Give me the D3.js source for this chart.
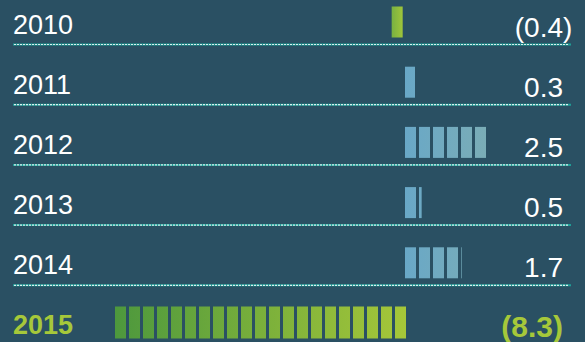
<!DOCTYPE html>
<html>
<head>
<meta charset="utf-8">
<script src="https://cdn.jsdelivr.net/npm/d3@7"></script>
<style>
  body { margin: 0; background: #2a5063; }
  svg { display: block; font-family: "Liberation Sans", Arial, Helvetica, sans-serif; }
</style>
</head>
<body>
<svg></svg>
<script>
var width = 585;
var height = 342;

// data
var years = ["2010", "2011", "2012", "2013", "2014"];
var values = [-0.4, 0.3, 2.5, 0.5, 1.7];
var labels = ["(0.4)", "0.3", "2.5", "0.5", "1.7"];
var totalYear = "2015";
var totalValue = -8.3;
var totalLabel = "(8.3)";

var allYears = years.concat([totalYear]);

var pitch = 14;
var blockW = 11;
var zeroX = 405;
var valueRight = 563;

var svg = d3.select("svg")
    .attr("width", width)
    .attr("height", height);

svg.append("rect")
    .attr("width", width)
    .attr("height", height)
    .attr("fill", "#2a5063");

// separator line y for each row
var yScale = d3.scalePoint()
    .domain(allYears)
    .range([44.5, 345.5]);

var xScale = d3.scaleLinear()
    .domain([0, 2.5])
    .range([zeroX, zeroX + 83.3]);

var xTotal = d3.scaleLinear()
    .domain([totalValue, 0])
    .range([115, zeroX + 1]);

var defs = svg.append("defs");
function grad(id, x1, x2, c1, c2) {
    var g = defs.append("linearGradient")
        .attr("id", id)
        .attr("gradientUnits", "userSpaceOnUse")
        .attr("x1", x1).attr("x2", x2)
        .attr("y1", 0).attr("y2", 0);
    g.append("stop").attr("offset", 0).attr("stop-color", c1);
    g.append("stop").attr("offset", 1).attr("stop-color", c2);
}
grad("blueGrad", xScale(0), xScale(2.5), "#69a8c7", "#7badb6");
grad("greenGrad", xScale(-0.4), xScale(0), "#78b142", "#a8ca38");
grad("totalGrad", xTotal(totalValue), xTotal(0), "#4d983d", "#a6c739");

// split a bar into blocks of fixed pitch from its left edge
function blocks(a, b) {
    var left = Math.min(a, b), right = Math.max(a, b);
    return d3.range(left, right, pitch).map(function(s) {
        return {x: s, w: Math.min(blockW, right - s)};
    });
}

var rows = years.map(function(y, i) {
    return {year: y, value: values[i], label: labels[i]};
});

// separators
allYears.slice(0, years.length).forEach(function(y) {
    var ly = yScale(y);
    svg.append("line")
        .attr("x1", 13).attr("x2", 571)
        .attr("y1", ly).attr("y2", ly)
        .attr("stroke", "#1f9f97")
        .attr("stroke-width", 2);
    svg.append("line")
        .attr("x1", 14).attr("x2", 568)
        .attr("y1", ly).attr("y2", ly)
        .attr("stroke", "#d9eeee")
        .attr("stroke-width", 1.2)
        .attr("stroke-dasharray", "2,1");
});

var row = svg.selectAll("g.row")
    .data(rows)
    .enter()
    .append("g")
    .attr("class", "row");

row.selectAll("rect")
    .data(function(d) {
        return blocks(xScale(0), xScale(d.value)).map(function(b) {
            b.sep = yScale(d.year);
            b.neg = d.value < 0;
            return b;
        });
    })
    .enter()
    .append("rect")
    .attr("x", function(b) { return b.x; })
    .attr("y", function(b) { return b.sep - 38; })
    .attr("width", function(b) { return b.w; })
    .attr("height", 31)
    .attr("fill", function(b) { return b.neg ? "url(#greenGrad)" : "url(#blueGrad)"; });

row.append("text")
    .attr("x", 13)
    .attr("y", function(d) { return yScale(d.year) - 11; })
    .attr("fill", "#ffffff")
    .attr("font-size", 27)
    .text(function(d) { return d.year; });

row.append("text")
    .attr("x", valueRight)
    .attr("y", function(d) { return yScale(d.year) - 8; })
    .attr("fill", "#ffffff")
    .attr("font-size", 28)
    .attr("text-anchor", "end")
    .text(function(d) { return d.value < 0 ? d.label.replace(")", "") : d.label; });

row.filter(function(d) { return d.value < 0; })
    .append("text")
    .attr("x", valueRight)
    .attr("y", function(d) { return yScale(d.year) - 8; })
    .attr("fill", "#ffffff")
    .attr("font-size", 28)
    .text(")");

// total row
var ty = yScale(totalYear);
svg.append("g").selectAll("rect")
    .data(blocks(xTotal(totalValue), xTotal(0)))
    .enter()
    .append("rect")
    .attr("x", function(b) { return b.x; })
    .attr("y", ty - 39)
    .attr("width", function(b) { return b.w; })
    .attr("height", 32)
    .attr("fill", "url(#totalGrad)");

svg.append("text")
    .attr("x", 13)
    .attr("y", ty - 12)
    .attr("fill", "#a6c83a")
    .attr("font-size", 27)
    .attr("font-weight", "bold")
    .text(totalYear);

svg.append("text")
    .attr("x", valueRight)
    .attr("y", ty - 9)
    .attr("fill", "#a6c83a")
    .attr("font-size", 30)
    .attr("font-weight", "bold")
    .attr("text-anchor", "end")
    .text(totalLabel);
</script>
</body>
</html>
